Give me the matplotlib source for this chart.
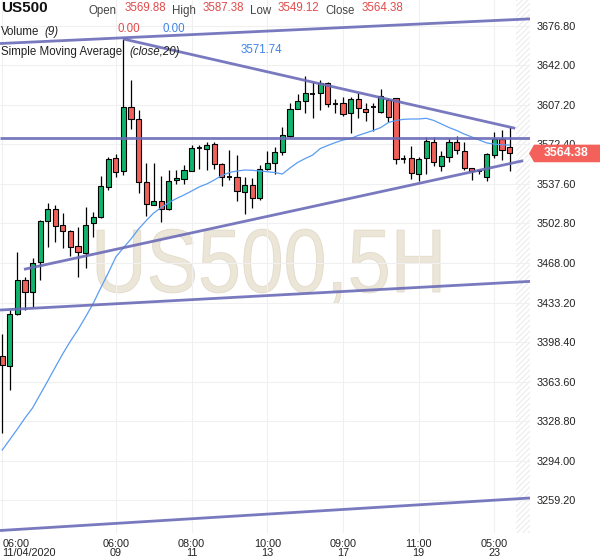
import matplotlib
matplotlib.use("Agg")
import matplotlib.pyplot as plt
import matplotlib.transforms as mtransforms
from matplotlib.font_manager import FontProperties
from matplotlib.patches import Rectangle, Polygon, PathPatch
from matplotlib.textpath import TextPath

plt.rcParams["font.family"] = ["Liberation Sans", "DejaVu Sans"]
plt.rcParams["hatch.linewidth"] = 0.6

# --- 5H candles, US500 ---
opens = [3386.4, 3377.1, 3422.8, 3452.8, 3442.2, 3468.6, 3504.7, 3515.2, 3501.2, 3496.1,
         3482.7, 3476.5, 3502.9, 3508.2, 3535.1, 3560.1, 3548.5, 3605.0, 3594.4, 3539.0,
         3519.3, 3522.3, 3515.5, 3540.8, 3541.9, 3549.2, 3568.9, 3568.0, 3572.7, 3555.0,
         3543.9, 3543.4, 3530.2, 3536.4, 3524.9, 3550.4, 3555.7, 3565.4, 3579.5, 3603.8,
         3610.3, 3616.7, 3617.3, 3626.1, 3608.2, 3608.5, 3599.7, 3612.0, 3603.2, 3605.6,
         3600.6, 3611.4, 3612.9, 3559.8, 3560.1, 3546.0, 3560.1, 3574.2, 3553.6, 3561.0,
         3574.2, 3566.3, 3551.3, 3549.0, 3543.7, 3563.0, 3577.1, 3569.88]
highs = [3405.5, 3426.6, 3477.4, 3455.7, 3472.1, 3506.0, 3520.5, 3519.0, 3511.7, 3497.0,
         3499.9, 3517.0, 3512.9, 3544.5, 3561.5, 3563.6, 3665.1, 3629.0, 3602.6, 3556.2,
         3556.2, 3544.8, 3549.8, 3549.8, 3554.2, 3571.8, 3571.8, 3574.7, 3574.7, 3556.0,
         3567.4, 3562.8, 3543.9, 3542.5, 3554.2, 3566.8, 3570.3, 3587.4, 3608.5, 3616.7,
         3632.5, 3627.5, 3629.0, 3627.5, 3612.0, 3613.8, 3614.3, 3617.3, 3608.5, 3609.0,
         3620.8, 3612.9, 3613.2, 3563.0, 3570.9, 3561.5, 3579.1, 3579.1, 3566.5, 3578.3,
         3580.0, 3574.7, 3551.3, 3551.0, 3564.5, 3583.3, 3585.0, 3587.38]
lows = [3318.4, 3356.2, 3422.2, 3426.6, 3429.0, 3453.0, 3482.3, 3486.7, 3480.9, 3474.4,
        3455.9, 3463.3, 3490.6, 3507.5, 3532.2, 3543.4, 3545.4, 3585.6, 3529.3, 3509.3,
        3519.0, 3504.3, 3514.6, 3537.5, 3537.5, 3548.7, 3550.4, 3549.8, 3551.0, 3536.0,
        3541.0, 3522.8, 3511.1, 3516.1, 3523.4, 3549.8, 3546.0, 3562.8, 3579.1, 3603.5,
        3600.2, 3595.3, 3602.6, 3605.5, 3600.2, 3597.6, 3582.1, 3595.8, 3593.2, 3584.4,
        3600.3, 3592.3, 3555.1, 3555.7, 3541.9, 3540.1, 3546.0, 3553.6, 3548.9, 3557.1,
        3563.6, 3549.8, 3541.0, 3546.0, 3540.1, 3560.1, 3558.6, 3549.12]
closes = [3378.2, 3422.8, 3452.8, 3442.2, 3467.7, 3504.7, 3515.2, 3500.3, 3495.9, 3481.8,
          3477.4, 3501.7, 3508.2, 3535.7, 3559.2, 3547.8, 3605.0, 3594.4, 3539.0, 3519.9,
          3522.3, 3515.5, 3540.4, 3542.6, 3549.8, 3568.9, 3568.6, 3571.5, 3555.4, 3543.4,
          3543.6, 3531.1, 3536.9, 3524.9, 3550.4, 3555.7, 3565.4, 3580.4, 3603.2, 3610.3,
          3617.3, 3616.4, 3626.1, 3607.6, 3607.9, 3598.8, 3612.0, 3604.1, 3600.6, 3605.3,
          3614.9, 3596.7, 3559.2, 3559.5, 3546.9, 3559.2, 3575.3, 3556.6, 3562.1, 3574.2,
          3567.2, 3551.3, 3549.2, 3548.8, 3563.6, 3577.1, 3567.4, 3564.38]
sma20 = [3303.4, 3312.7, 3321.9, 3331.6, 3340.4, 3352.3, 3364.1, 3376.3, 3388.2, 3399.2,
         3409.3, 3420.5, 3432.3, 3446.0, 3459.2, 3473.3, 3481.3, 3489.1, 3497.9, 3505.2,
         3512.0, 3516.8, 3521.2, 3524.7, 3527.8, 3531.3, 3534.9, 3537.5, 3541.0, 3545.0,
         3547.6, 3548.9, 3549.8, 3549.6, 3548.9, 3548.3, 3547.6, 3546.3, 3551.6, 3556.4,
         3559.9, 3563.0, 3568.7, 3571.4, 3574.0, 3576.2, 3577.5, 3580.2, 3582.4, 3584.6,
         3587.2, 3591.6, 3593.4, 3594.4, 3594.7, 3594.7, 3595.3, 3593.4, 3590.3, 3587.2,
         3584.6, 3581.5, 3578.9, 3576.2, 3573.6, 3572.6, 3572.0, 3571.74]

# drawn trend lines: (candle index, price) end points
trend_lines = [
    ((-0.3, 3661.1), (69.7, 3682.8)),
    ((16.0, 3665.1), (67.75, 3586.5)),
    ((-0.3, 3578.4), (69.7, 3578.4)),
    ((2.87, 3462.4), (68.8, 3558.0)),
    ((-0.3, 3426.6), (69.7, 3451.8)),
    ((-0.3, 3232.6), (69.7, 3261.2)),
]

price_ticks = [3259.20, 3294.00, 3328.80, 3363.60, 3398.40, 3433.20, 3468.00,
               3502.80, 3537.60, 3572.40, 3607.20, 3642.00, 3676.80]
time_tick_idx = [0, 15, 25, 35, 45, 55, 65]
time_tick_labels = ["06:00\n11/04/2020", "06:00\n09", "08:00\n11", "10:00\n13",
                    "09:00\n17", "11:00\n19", "05:00\n23"]

last_open, last_high, last_low, last_close = 3569.88, 3587.38, 3549.12, 3564.38
sma_last = 3571.74

GREEN = "#10b46c"
RED = "#f2605a"
LINE = "#6b6bb8"
SMA = "#5a9cf4"
NUM_RED = "#e04b4b"
NUM_BLUE = "#3f83e6"
TAG = "#f4615b"

W, H = 600, 558
fig = plt.figure(figsize=(W / 100, H / 100), dpi=100)
ax = fig.add_axes([0, 25 / H, 530 / W, 533 / H])
ax.set_xlim(-0.3, 69.7)
ax.set_ylim(3230.4, 3699.4)

for s in ax.spines.values():
    s.set_visible(False)

ax.set_yticks(price_ticks)
ax.set_yticklabels([f"{p:.2f}" for p in price_ticks])
ax.yaxis.tick_right()
ax.tick_params(axis="y", length=0, pad=5, labelsize=7.8, labelcolor="#222222")

ax.set_xticks(time_tick_idx)
ax.set_xticklabels(time_tick_labels, linespacing=0.95)
ax.tick_params(axis="x", length=0, pad=4, labelsize=7.8, labelcolor="#222222")
ax.get_xticklabels()[0].set_ha("left")

ax.grid(True, color="#f0f0f0", lw=0.8, zorder=0)
ax.set_axisbelow(True)

# hatched zone right of the last bar
ax.axvspan(67.8, 69.7, facecolor="none", edgecolor="#e6e6e6", hatch="//////", lw=0, zorder=0)

# watermark, condensed horizontally to match the narrow chart font
tp = TextPath((0, 0), "US500,5H", size=1, prop=FontProperties(family="Liberation Sans"))
ext = tp.get_extents()
wm_tf = (mtransforms.Affine2D()
         .translate(-ext.x0, 0)
         .scale(343 / ext.width, 90)
         .translate(97, H - 292))
ax.add_patch(PathPatch(tp, transform=wm_tf, facecolor="#ece6d8", edgecolor="#e2dac8",
                       lw=0.6, zorder=0.5))

w = 0.68
for i, (o, h, l, c) in enumerate(zip(opens, highs, lows, closes)):
    ax.vlines(i, l, h, color="black", lw=0.9, zorder=3)
    if abs(c - o) < 0.6:
        ax.hlines(o, i - w / 2, i + w / 2, color="black", lw=1.3, zorder=4)
    else:
        ax.add_patch(Rectangle((i - w / 2, min(o, c)), w, abs(c - o),
                               facecolor=GREEN if c > o else RED,
                               edgecolor="black", lw=0.8, zorder=4))

ax.plot(range(len(sma20)), sma20, color=SMA, lw=0.9, zorder=5)

for (x0, p0), (x1, p1) in trend_lines:
    ax.plot([x0, x1], [p0, p1], color=LINE, lw=2, alpha=0.9, zorder=6,
            solid_capstyle="butt")

# current price tag on the right scale
yc = ax.transData.transform((0, last_close))[1]
tag = Polygon([(529, yc), (534, yc + 8.8), (W, yc + 8.8), (W, yc - 8.8), (534, yc - 8.8)],
              closed=True, facecolor=TAG, edgecolor="none",
              transform=mtransforms.IdentityTransform(), zorder=10)
fig.add_artist(tag)
fig.text(566 / W, yc / H, f"{last_close:.2f}", ha="center", va="center",
         fontsize=8.8, fontweight="bold", color="white", zorder=11)

# header legend
def ftxt(x, y, s, **kw):
    fig.text(x / W, 1 - y / H, s, va="baseline", ha="left", **kw)

ftxt(0.7, 12.5, "US500", fontsize=11, fontweight="bold", color="#111111")
for x, lab in [(88.3, "Open"), (171.7, "High"), (250, "Low"), (325, "Close")]:
    ftxt(x, 14, lab, fontsize=8.3, color="#444444")
for x, val in [(124.3, last_open), (202.7, last_high), (277.7, last_low), (361.7, last_close)]:
    ftxt(x, 11, f"{val:.2f}", fontsize=8.3, color=NUM_RED)

ftxt(0.7, 35, "Volume", fontsize=8.3, color="#222222")
ftxt(44, 35, "(9)", fontsize=8.3, color="#222222", style="italic")
ftxt(117.3, 31.5, "0.00", fontsize=8.3, color=NUM_RED)
ftxt(162.7, 31.5, "0.00", fontsize=8.3, color=NUM_BLUE)

ftxt(0.7, 55, "Simple Moving Average", fontsize=8.3, color="#222222")
ftxt(129.3, 55, "(close,20)", fontsize=8.3, color="#222222", style="italic")
ftxt(240.7, 53, f"{sma_last:.2f}", fontsize=8.3, color=NUM_BLUE)

fig.savefig("out.png", dpi=100)
